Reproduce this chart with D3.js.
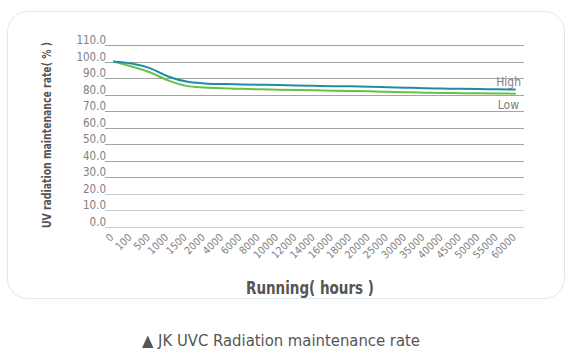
<!DOCTYPE html>
<html><head><meta charset="utf-8">
<script src="https://cdn.jsdelivr.net/npm/d3@7"></script>
<style>body{margin:0;background:#fff;}svg{display:block;}</style>
</head><body>
<script>
const categories = ["0","100","500","1000","1500","2000","4000","6000","8000","10000","12000","14000","16000","18000","20000","25000","30000","35000","40000","45000","50000","55000","60000"];
const highValues = [100,98.8,96,91,87.9,86.8,86.4,86.2,86,85.8,85.5,85.3,85.1,85,84.8,84.5,84.2,83.9,83.7,83.5,83.4,83.2,83.1];
const lowValues  = [100,97,93.5,88.6,85.3,84.3,83.8,83.5,83.2,83,82.8,82.6,82.4,82.2,82,81.7,81.4,81.2,81,80.9,80.8,80.7,80.6];
const yTicks = [0,10,20,30,40,50,60,70,80,90,100,110];
const seriesNames = ["High","Low"];

const W = 581, H = 355;
const svg = d3.select("body").append("svg").attr("width", W).attr("height", H);
const font = "'DejaVu Sans Condensed','Roboto',sans-serif";

// frame
svg.append("rect").attr("x", 7.5).attr("y", 11.5).attr("width", 557).attr("height", 287)
  .attr("rx", 20).attr("ry", 20).attr("fill", "#fff").attr("stroke", "#dcebf0").attr("stroke-width", 1);

const x0 = 105, x1 = 524, yTop = 45, yBot = 227;
const x = d3.scalePoint().domain(categories).range([x0, x1]).padding(0.45);
const y = d3.scaleLinear().domain([0, 110]).range([yBot, yTop]);

// grid
svg.append("g").selectAll("line").data(yTicks).join("line")
  .attr("x1", x0).attr("x2", x1)
  .attr("y1", d => Math.round(y(d)) + 0.5).attr("y2", d => Math.round(y(d)) + 0.5)
  .attr("stroke", d => d <= 20 ? "#cccccc" : "#a3a3a3").attr("stroke-width", 1);

// y labels
svg.append("g").selectAll("text").data(yTicks).join("text")
  .attr("x", x0 + 1).attr("y", d => y(d) - 1)
  .attr("text-anchor", "end")
  .attr("font-family", font).attr("font-size", 11.5).attr("fill", "#808080")
  .text(d => d.toFixed(1));

// x labels
svg.append("g").selectAll("text").data(categories).join("text")
  .attr("transform", d => `translate(${x(d) + 1},${238}) rotate(-45)`)
  .attr("text-anchor", "end")
  .attr("font-family", font).attr("font-size", 10.5).attr("fill", "#808080")
  .text(d => d);

// lines
const line = d3.line().x((d, i) => x(categories[i])).y(d => y(d)).curve(d3.curveMonotoneX);
svg.append("path").datum(lowValues).attr("d", line).attr("fill", "none")
  .attr("stroke", "#6abf4b").attr("stroke-width", 2);
svg.append("path").datum(highValues).attr("d", line).attr("fill", "none")
  .attr("stroke", "#1b8ea6").attr("stroke-width", 2);

// series labels
svg.append("text").attr("x", 521).attr("y", y(highValues[highValues.length-1]) - 4)
  .attr("text-anchor", "end").attr("font-family", font).attr("font-size", 12).attr("fill", "#808080").text(seriesNames[0]);
svg.append("text").attr("x", 519).attr("y", y(lowValues[lowValues.length-1]) + 15)
  .attr("text-anchor", "end").attr("font-family", font).attr("font-size", 12).attr("fill", "#808080").text(seriesNames[1]);

// axis titles
svg.append("text").attr("transform", `translate(51,135) rotate(-90)`)
  .attr("text-anchor", "middle").attr("font-family", font).attr("font-size", 12.5)
  .attr("textLength", 186).attr("lengthAdjust", "spacingAndGlyphs")
  .attr("font-weight", "bold").attr("fill", "#555").text("UV radiation maintenance rate( % )");
svg.append("text").attr("x", 310).attr("y", 294)
  .attr("text-anchor", "middle").attr("font-family", font).attr("font-size", 17)
  .attr("textLength", 128).attr("lengthAdjust", "spacingAndGlyphs")
  .attr("font-weight", "bold").attr("fill", "#555").text("Running( hours )");

// caption
svg.append("text").attr("x", 281).attr("y", 346)
  .attr("text-anchor", "middle").attr("font-family", font).attr("font-size", 16.5)
  .attr("fill", "#555").text("▲ JK UVC  Radiation maintenance rate");
</script>
</body></html>
